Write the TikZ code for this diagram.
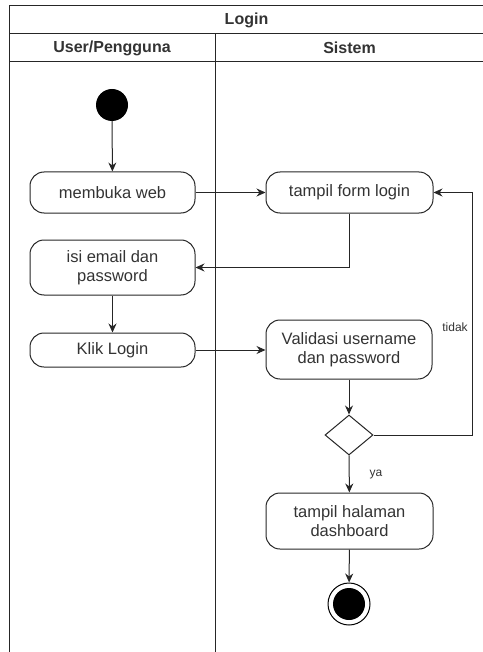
\documentclass[tikz,border=0pt]{standalone}
\usepackage{fontspec}
\setmainfont{Liberation Sans}
\usetikzlibrary{shapes.geometric,arrows.meta}

\begin{document}
\begin{tikzpicture}[x=1pt,y=-1pt,
    lane/.style={line width=1pt,draw=black!85},
    act/.style={draw=black!85,line width=1pt,rounded corners=14pt,minimum width=165pt,inner sep=2pt,align=center,text=black!80,font=\fontsize{16.5}{19}\selectfont},
    flow/.style={line width=1pt,draw=black!85,-{Stealth[length=9pt,width=8pt]}},
    lbl/.style={text=black!80,font=\fontsize{12}{14}\selectfont},
    head/.style={text=black!80,font=\fontsize{16}{19}\selectfont\bfseries}]
            \useasboundingbox (0,0) rectangle (482,652);
            % swimlanes
            \draw[lane] (9,652) -- (9,6) -- (490,6) -- (490,652);
            \draw[lane] (9,34) -- (490,34);
            \draw[lane] (9,62) -- (490,62);
            \draw[lane] (215,34) -- (215,652);
            \node[head] (judul) at (246.5,20) {Login};
            \node[head] (user) at (112,48) {User/Pengguna};
            \node[head] (sistem) at (349.5,48) {Sistem};
            % aktivitas
            \node[circle,fill=black,inner sep=0pt,minimum size=32pt] (start) at (112,105){};
            \node[act,minimum height=41pt] (web) at (112.5,192.5) {membuka web};
            \node[act,minimum height=55pt] (isi) at (112.5,267.5) {isi email dan\\password};
            \node[act,minimum height=34pt] (klik) at (112.5,350) {Klik Login};
            \node[act,minimum height=41pt,minimum width=167pt] (form) at (349.5,192.5) {tampil form login};
            \node[act,minimum height=59pt,minimum width=166pt] (valid) at (349,349.5) {Validasi username\\dan password};
            \node[diamond,draw=black!85,line width=1pt,inner sep=0pt,minimum width=48pt,minimum height=40pt] (cek) at (349,435){};
            \node[act,minimum height=56pt,minimum width=167pt] (dash) at (349.5,521) {tampil halaman\\dashboard};
            \node[circle,draw=black,line width=1pt,inner sep=0pt,minimum size=42pt] (akhir) at (349,604){};
            \node[circle,fill=black,inner sep=0pt,minimum size=32pt] (akhirdalam) at (akhir){};
            \coordinate (balik) at (472,435);
            % alur
            \draw[flow] (start) -- (web);
            \draw[flow] (web) -- (form);
            \draw[flow] (form.south) |- (isi.east);
            \draw[flow] (isi) -- (klik);
            \draw[flow] (klik.east) -- (valid.west |- klik.east);
            \draw[flow] (valid) -- (cek);
            \draw[flow] (cek) -- (dash);
            \draw[flow] (cek.east) -- (balik) |- (form.east);
            \draw[flow] (dash) -- (akhir);
            \node[lbl] (tidak) at (455,327) {tidak};
            \node[lbl] (ya) at (376,475) {ya};
        \end{tikzpicture}
\end{document}
